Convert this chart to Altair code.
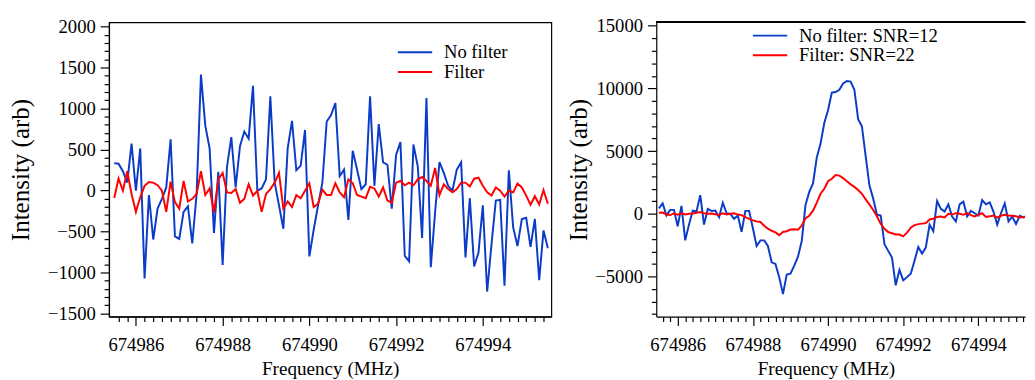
import altair as alt
import pandas as pd

# ---------------- data ----------------
freq_start = 674985.5
freq_step = 0.1

left_no_filter = [
    333, 325, 234, 95, 571, -4, 512, -1075, -56, -599, -222, -103, 36, 623, -560, -591,
    -262, -194, -647, -44, 1413, 790, 512, -520, 226, -909, 286, 651, 36, 540, 718, 631,
    1277, -4, 24, 135, 1147, 95, -182, -468, 512, 849, 246, 302, 738, -806, -480, -182,
    95, 841, 920, 1067, 175, 254, -361, 484, 254, 16, 75, 1147, 56, 810, 342, 313,
    -222, 432, 591, -798, -865, 560, 294, -579, 1127, -937, -262, 345, 214, 56, -4, 254,
    342, -818, -95, -929, -758, -182, -1234, -659, -123, -115, -1163, 246, -452, -679, -349, -333,
    -690, -349, -1095, -488, -706,
]
left_filter = [
    -92, 146, -4, 234, -44, -262, -83, 56, 103, 95, 63, -4, -262, 107, -143, -222,
    115, -135, -103, -44, 234, -56, 24, -270, 135, 214, -24, -32, 16, -151, -103, 75,
    -63, -4, -262, -44, 16, 95, 214, -222, -135, -202, -56, -95, -4, 87, -202, -163,
    8, -56, -56, 87, -24, -83, 135, 87, -56, -75, -95, 44, 24, -75, 36, -123,
    -151, 95, 115, 63, 95, 63, 135, 163, 115, 56, 274, -56, 75, 16, -24, 16,
    95, 95, 48, 143, 155, 56, -24, -63, 36, -4, -75, -4, -24, 83, 36, -63,
    -175, -71, -170, 4, -163,
]
right_no_filter = [
    440, 831, -133, 314, 314, -996, 627, -2117, -862, 259, 180, 1490, -862, 392, 235, 259,
    -266, 886, 47, 0, -392, -133, -1443, 235, 235, -1150, -2564, -2117, -2117, -2564, -3870, -3998,
    -5049, -6405, -4840, -4780, -4130, -3420, -2170, 700, 1750, 2430, 4500, 5600, 7240, 8280, 9670, 9720,
    9900, 10400, 10600, 10550, 9900, 7550, 6980, 4600, 2274, 1223, -78, -133, -2430, -2956, -3481, -5700,
    -4469, -5308, -5049, -4782, -3740, -2642, -3167, -2697, -862, -1388, 1019, 392, 180, 753, -212, -604,
    753, 964, -212, 235, 47, -133, 1098, 753, 909, 180, -862, 47, 831, -604, -212, -815,
    -157, -290, -200, 100, -250,
]
right_filter = [
    78, 100, -50, -100, 30, -70, 50, -50, 0, 30, 80, 140, 50, 0, 30, -30,
    -100, 50, -50, 0, 40, -60, -100, -260, -400, -520, -604, -650, -950, -1180, -1350, -1480,
    -1700, -1450, -1390, -1250, -1230, -1260, -950, -350, -150, 250, 900, 1600, 2000, 2600, 2800, 3100,
    3050, 2850, 2600, 2350, 2150, 1900, 1600, 1150, 750, 300, -200, -800, -1200, -1450, -1550, -1650,
    -1650, -1800, -1500, -1100, -900, -820, -780, -740, -450, -392, -250, -212, -288, 0, -60, 50,
    0, -80, 50, -100, -212, -80, 50, -250, -200, -130, -300, -150, -80, -130, -160, -200,
    -288, -250, -200, -150, -200,
]

left_series = ["No filter", "Filter"]
right_series = ["No filter: SNR=12", "Filter: SNR=22"]
x_title = "Frequency (MHz)"
y_title = "Intensity (arb)"

left_y_ticks = list(range(-1500, 2001, 100))
right_y_ticks = list(range(-8000, 15001, 1000))
left_x_ticks = [round(674985.6 + 0.2 * k, 1) for k in range(50)]
right_x_ticks = [round(674985.6 + 0.2 * k, 1) for k in range(49)]

BLUE = "#0a3cc8"
RED = "#ff0000"
FONT = "Liberation Serif, Times New Roman, Times, serif"
FS = 19

MAJOR_X = "abs(datum.value / 2 - round(datum.value / 2)) < 0.001"
# legend key: a 35 px horizontal stroke drawn from a small symbol size
KEY_PATH = "M-2.1875,0H2.1875"


def frame(values_blue, values_red, names):
    rows = []
    for i, v in enumerate(values_blue):
        rows.append({"freq": round(freq_start + freq_step * i, 2), "val": v, "series": names[0]})
    for i, v in enumerate(values_red):
        rows.append({"freq": round(freq_start + freq_step * i, 2), "val": v, "series": names[1]})
    return pd.DataFrame(rows)


def panel(df, names, x_dom, y_dom, x_ticks, y_ticks, y_major, width, height,
          legend_x, legend_y, title_x, y_title_pad, stroke_color):
    major_y = f"abs(datum.value / {y_major} - round(datum.value / {y_major})) < 0.001"
    x_axis = alt.Axis(
        values=x_ticks, tickCount=300, tickMinStep=0.1,
        labelExpr=f"{MAJOR_X} ? format(datum.value, 'd') : ''",
        tickSize={"condition": {"test": MAJOR_X, "value": 9}, "value": 5},
        labelOverlap=False, labelFlush=False, labelPadding=11,
        title=x_title, titleX=title_x, titlePadding=5, titleFontSize=19.5,
        grid=False,
    )
    y_axis = alt.Axis(
        values=y_ticks, tickCount=300, tickMinStep=1,
        labelExpr=f"{major_y} ? format(datum.value, 'd') : ''",
        tickSize={"condition": {"test": major_y, "value": 9}, "value": 5},
        labelOverlap=False, labelFlush=False, labelPadding=5,
        title=y_title, titlePadding=y_title_pad, titleFontSize=25.5, grid=False,
    )
    color = alt.Color(
        "series:N",
        scale=alt.Scale(domain=names, range=[BLUE, RED]),
        legend=alt.Legend(
            title=None, orient="none", legendX=legend_x, legendY=legend_y,
            symbolType=KEY_PATH, symbolSize=256, symbolStrokeWidth=2,
            symbolOffset=8.5, labelOffset=20, rowPadding=0,
            labelFont=FONT, labelFontSize=FS, labelColor="black",
        ),
    )
    base = alt.Chart(df).mark_line(strokeWidth=2, clip=True).encode(
        x=alt.X("freq:Q", scale=alt.Scale(domain=x_dom, nice=False, zero=False), axis=x_axis),
        y=alt.Y("val:Q", scale=alt.Scale(domain=y_dom, nice=False, zero=False), axis=y_axis),
        color=color,
    )
    blue = base.transform_filter(alt.datum.series == names[0])
    red = base.transform_filter(alt.datum.series == names[1])
    layers = [blue, red]
    if stroke_color == "transparent":
        top = alt.Chart(df).mark_rule(color="black", strokeWidth=1.2).encode(
            x=alt.value(0), x2=alt.value(width), y=alt.value(0)
        )
        layers.append(top)
    return alt.layer(*layers).properties(
        width=width, height=height,
        view=alt.ViewBackground(stroke=stroke_color, strokeWidth=1.2),
    )


left_df = frame(left_no_filter, left_filter, left_series)
right_df = frame(right_no_filter, right_filter, right_series)

left = panel(left_df, left_series, [674985.38, 674995.58], [-1540, 2050],
             left_x_ticks, left_y_ticks, 500, 451, 300, 294, 21, 225.5, 14.5, "black")
right = panel(right_df, right_series, [674985.43, 674995.24], [-8200, 15270],
              right_x_ticks, right_y_ticks, 5000, 376, 300, 98, 4, 173, 3, "transparent")

chart = alt.hconcat(left, right, spacing=14).resolve_scale(color="independent").properties(
    padding={"left": 0, "top": 4, "right": 0, "bottom": 0}
).configure_axis(
    labelFont=FONT, labelFontSize=FS, labelColor="black",
    titleFont=FONT, titleFontWeight="normal", titleColor="black",
    domainColor="black", domainWidth=1.2, tickColor="black", tickWidth=1.2,
).configure_view(stroke="black")

chart.save("out.html", embed_options={"renderer": "svg", "actions": False})
